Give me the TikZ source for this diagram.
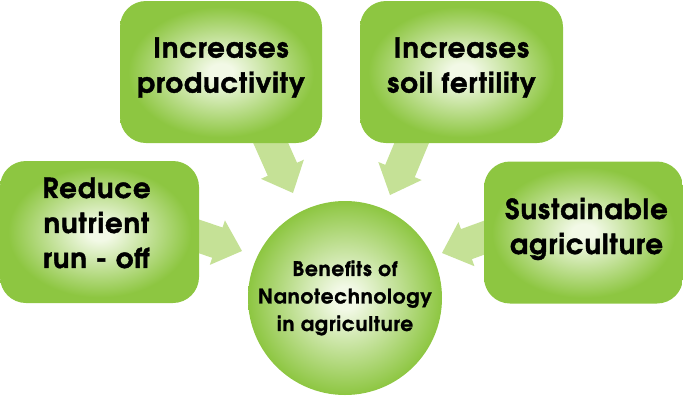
\documentclass[tikz,border=0pt]{standalone}
\usepackage{fontspec}
\setmainfont{texgyreadventor}[Extension=.otf, UprightFont=*-regular, BoldFont=*-bold, BoldFeatures={FakeBold=1.5}]
\usetikzlibrary{calc,backgrounds}
\definecolor{leaf}{RGB}{141,198,65}
\definecolor{leafc}{RGB}{242,249,230}
\definecolor{arrowgreen}{RGB}{197,225,150}
\pgfdeclareradialshading{boxglow}{\pgfpoint{0bp}{0bp}}{color(0bp)=(leafc); color(3bp)=(leafc); color(23bp)=(leaf); color(50bp)=(leaf)}
\pgfdeclareradialshading{ballglow}{\pgfpoint{0bp}{0bp}}{color(0bp)=(leafc); color(3bp)=(leafc); color(25bp)=(leaf); color(50bp)=(leaf)}
\newcommand\blockarrow[2]{%
  \coordinate (hb) at ($(#2)!26pt!(#1)$);
  \fill[arrowgreen] ($(#1)!16pt!90:(#2)$) -- ($(hb)!16pt!-90:(#1)$) -- ($(hb)!23.5pt!-90:(#1)$) -- (#2)
    -- ($(hb)!23.5pt!90:(#1)$) -- ($(hb)!16pt!90:(#1)$) -- ($(#1)!16pt!-90:(#2)$) -- cycle;}
\newfontfamily\boxfont{texgyreadventor}[Extension=.otf, UprightFont=*-bold, UprightFeatures={FakeBold=1.5}, LetterSpace=3.5]
\newfontfamily\hubfont{texgyreadventor}[Extension=.otf, UprightFont=*-bold, UprightFeatures={FakeBold=1.3}, LetterSpace=4]
\tikzset{
  benefit/.style={shading=boxglow, rounded corners=26pt, minimum height=142pt, inner sep=0pt},
  benefittext/.style={align=center, inner sep=0pt, font=\boxfont\fontsize{27.5}{35}\selectfont},
  hub/.style={circle, shading=ballglow, minimum size=194pt, inner sep=0pt,
    align=center, font=\hubfont\fontsize{20}{27.5}\selectfont}
}
\begin{document}
\begin{tikzpicture}[x=1pt,y=-1pt]
\useasboundingbox (0,0) rectangle (683,400);
\node[benefit, minimum width=202pt] (b1) at (221,72) {};
\node[benefit, minimum width=203pt] (b2) at (461.5,72) {};
\node[benefit, minimum width=199pt] (b3) at (99.5,232) {};
\node[benefit, minimum width=199pt] (b4) at (583.5,232.5) {};
\node[benefittext] (l1) at ($(b1.center)+(0,-4.5)$) {Increases\\productivity};
\node[benefittext] (l2) at ($(b2.center)+(0,-4.5)$) {Increases\\soil fertility};
\node[benefittext] (l3) at ($(b3.center)+(-3,-9)$) {Reduce\\nutrient\\run - off};
\node[benefittext] (l4) at ($(b4.center)+(3,-3.5)$) {Sustainable\\agriculture};
\node[hub] (c) at (345,298) {Benefits of\\Nanotechnology\\in agriculture};
\coordinate (s1) at ($(b1.south)+(44,-13)$);
\coordinate (t1) at ($(c.center)+(-52,-105)$);
\coordinate (s2) at ($(b2.south)+(-44.5,-13)$);
\coordinate (t2) at ($(c.center)+(45,-103)$);
\coordinate (s3) at ($(b3.east)+(-19,-2)$);
\coordinate (t3) at ($(c.center)+(-103,-47)$);
\coordinate (s4) at ($(b4.west)+(16,-0.5)$);
\coordinate (t4) at ($(c.center)+(97,-45)$);
\begin{pgfonlayer}{background}
\blockarrow{s1}{t1}
\blockarrow{s2}{t2}
\blockarrow{s3}{t3}
\blockarrow{s4}{t4}
\end{pgfonlayer}
\end{tikzpicture}
\end{document}
